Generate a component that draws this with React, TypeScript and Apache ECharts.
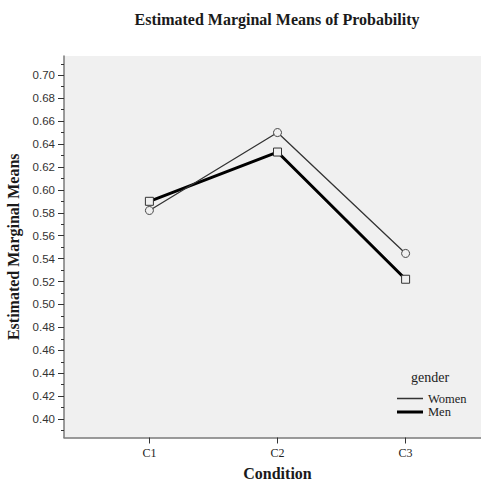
import React, { useEffect, useRef } from "react";
import * as echarts from "echarts";

// Estimated marginal means of Probability by Condition and gender
const conditions = ["C1", "C2", "C3"];
const womenMeans = [0.582, 0.650, 0.5445];
const menMeans = [0.590, 0.633, 0.522];

const yMajorTicks = [0.40, 0.42, 0.44, 0.46, 0.48, 0.50, 0.52, 0.54, 0.56, 0.58, 0.60, 0.62, 0.64, 0.66, 0.68, 0.70];
const yMinorTicks = [0.39, 0.41, 0.43, 0.45, 0.47, 0.49, 0.51, 0.53, 0.55, 0.57, 0.59, 0.61, 0.63, 0.65, 0.67, 0.69, 0.71];
const Y_MIN = 0.3839;
const Y_MAX = 0.7168;

const SERIF = "'Liberation Serif', 'Times New Roman', serif";
const SANS = "'Liberation Sans', Arial, sans-serif";

export default function App() {
  const ref = useRef<HTMLDivElement>(null);

  useEffect(() => {
    if (!ref.current) return;
    const chart = echarts.init(ref.current, null, { renderer: "svg" });
    const toPoints = (vals: number[]) => vals.map((v, i) => [i + 1, v]);
    const axisLineStyle = { color: "#7a7a7a", width: 1.5 };
    const legendText = { fontFamily: SERIF, fontSize: 12.5, color: "#222" };

    chart.setOption({
      animation: false,
      backgroundColor: "#ffffff",
      title: {
        text: "Estimated Marginal Means of Probability",
        left: 272,
        top: 6,
        textAlign: "center",
        textStyle: { fontFamily: SERIF, fontWeight: "bold", fontSize: 16, color: "#1a1a1a" },
      },
      grid: {
        left: 64,
        top: 56,
        width: 427,
        height: 381.5,
        containLabel: false,
        outerBoundsMode: "none",
        show: true,
        backgroundColor: "#f0f0f0",
        borderWidth: 0,
      },
      legend: [
        {
          data: [{ name: "Women", icon: "rect", itemStyle: { color: "#333333", borderWidth: 0 } }],
          left: 397,
          top: 392,
          padding: 0,
          itemWidth: 26,
          itemHeight: 1.5,
          itemGap: 0,
          textStyle: legendText,
        },
        {
          data: [{ name: "Men", icon: "rect", itemStyle: { color: "#000000", borderWidth: 0 } }],
          left: 397,
          top: 405.5,
          padding: 0,
          itemWidth: 26,
          itemHeight: 3,
          itemGap: 0,
          textStyle: legendText,
        },
      ],
      graphic: [
        {
          type: "text",
          left: 411,
          top: 370,
          style: { text: "gender", font: `14px ${SERIF}`, fill: "#222" },
        },
      ],
      xAxis: {
        type: "value",
        min: 1 / 3,
        max: 11 / 3,
        name: "Condition",
        nameLocation: "middle",
        nameGap: 28,
        nameTextStyle: { fontFamily: SERIF, fontWeight: "bold", fontSize: 16, color: "#1a1a1a" },
        splitLine: { show: false },
        axisLine: { show: true, lineStyle: axisLineStyle },
        axisTick: { show: true, length: 6, customValues: [1, 2, 3], lineStyle: { color: "#333", width: 1 } },
        axisLabel: {
          customValues: [1, 2, 3],
          formatter: (v: number) => conditions[Math.round(v) - 1] ?? "",
          fontFamily: SERIF,
          fontSize: 12,
          color: "#222",
          margin: 9,
        },
      },
      yAxis: [
        {
          type: "value",
          min: Y_MIN,
          max: Y_MAX,
          name: "Estimated Marginal Means",
          nameLocation: "middle",
          nameGap: 31,
          nameTextStyle: { fontFamily: SERIF, fontWeight: "bold", fontSize: 16, color: "#1a1a1a" },
          splitLine: { show: false },
          axisLine: { show: true, lineStyle: axisLineStyle },
          axisTick: { show: true, length: 6, customValues: yMajorTicks, lineStyle: { color: "#333", width: 1 } },
          axisLabel: {
            customValues: yMajorTicks,
            formatter: (v: number) => v.toFixed(2),
            fontFamily: SANS,
            fontSize: 11.5,
            color: "#333",
            margin: 9,
          },
        },
        {
          type: "value",
          position: "left",
          min: Y_MIN,
          max: Y_MAX,
          splitLine: { show: false },
          axisLine: { show: false },
          axisTick: { show: true, length: 3, customValues: yMinorTicks, lineStyle: { color: "#333", width: 1 } },
          axisLabel: { show: false },
        },
      ],
      series: [
        {
          name: "Women",
          type: "line",
          data: toPoints(womenMeans),
          symbol: "circle",
          symbolSize: 8,
          color: "#333333",
          lineStyle: { color: "#333333", width: 1.3 },
          itemStyle: { color: "#f0f0f0", borderColor: "#444444", borderWidth: 1 },
          z: 3,
        },
        {
          name: "Men",
          type: "line",
          data: toPoints(menMeans),
          symbol: "rect",
          symbolSize: 8,
          color: "#000000",
          lineStyle: { color: "#000000", width: 3 },
          itemStyle: { color: "#f0f0f0", borderColor: "#333333", borderWidth: 1 },
          z: 2,
        },
      ],
    });
    return () => chart.dispose();
  }, []);

  return (
    <div
      ref={ref}
      style={{ position: "fixed", left: 0, top: 0, width: 481, height: 482 }}
    />
  );
}
